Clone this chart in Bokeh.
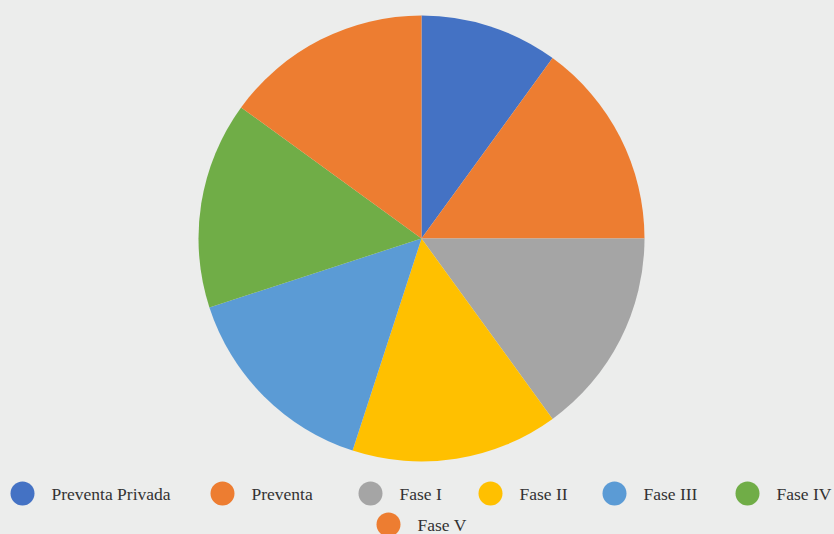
import math
from bokeh.plotting import figure
from bokeh.models import Range1d, ColumnDataSource
from bokeh.embed import file_html
from bokeh.resources import INLINE
from bokeh.core.properties import value

# data
categories = ["Preventa Privada", "Preventa", "Fase I", "Fase II", "Fase III", "Fase IV", "Fase V"]
shares = [10, 15, 15, 15, 15, 15, 15]
colors = ["#4472c4", "#ed7d31", "#a5a5a5", "#ffc000", "#5b9bd5", "#70ad47", "#ed7d31"]

# layout (picture pixel coordinates)
BG = "#ecedec"
W, H = 834, 534
CX, CY, R = 421, 238, 223
legend_x = [22, 222, 370, 490, 614, 747, 388]
legend_y = [493, 493, 493, 493, 493, 493, 524]

total = sum(shares)
starts, ends = [], []
cum = 0.0
for s in shares:
    a0 = math.pi / 2 - 2 * math.pi * cum / total
    cum += s
    a1 = math.pi / 2 - 2 * math.pi * cum / total
    starts.append(a0)
    ends.append(a1)

p = figure(width=W, height=H, output_backend="svg", toolbar_location=None,
           x_range=Range1d(0, W), y_range=Range1d(-H, 0),
           min_border=0, border_fill_color=BG, background_fill_color=BG)
p.axis.visible = False
p.grid.visible = False
p.outline_line_color = None

src = ColumnDataSource(dict(cat=categories, start=starts, end=ends, color=colors))
p.wedge(x=CX, y=-CY, radius=R, start_angle="start", end_angle="end", direction="clock",
        fill_color="color", line_color=None, source=src)

lsrc = ColumnDataSource(dict(x=legend_x, y=[-v for v in legend_y],
                             tx=[v + 29 for v in legend_x], label=categories, color=colors))
p.scatter(x="x", y="y", size=24, marker="circle", fill_color="color", line_color=None, source=lsrc)
p.text(x="tx", y="y", text="label", text_font=value("Liberation Serif"), text_font_size="17.5px",
       text_color="#333333", text_baseline="middle", text_align="left", source=lsrc)

html = file_html(p, INLINE)
css = "<style>html,body{background:%s;margin:0;overflow:hidden;}</style>" % BG
html = html.replace("</head>", css + "</head>", 1)
open("out.html", "w").write(html)
